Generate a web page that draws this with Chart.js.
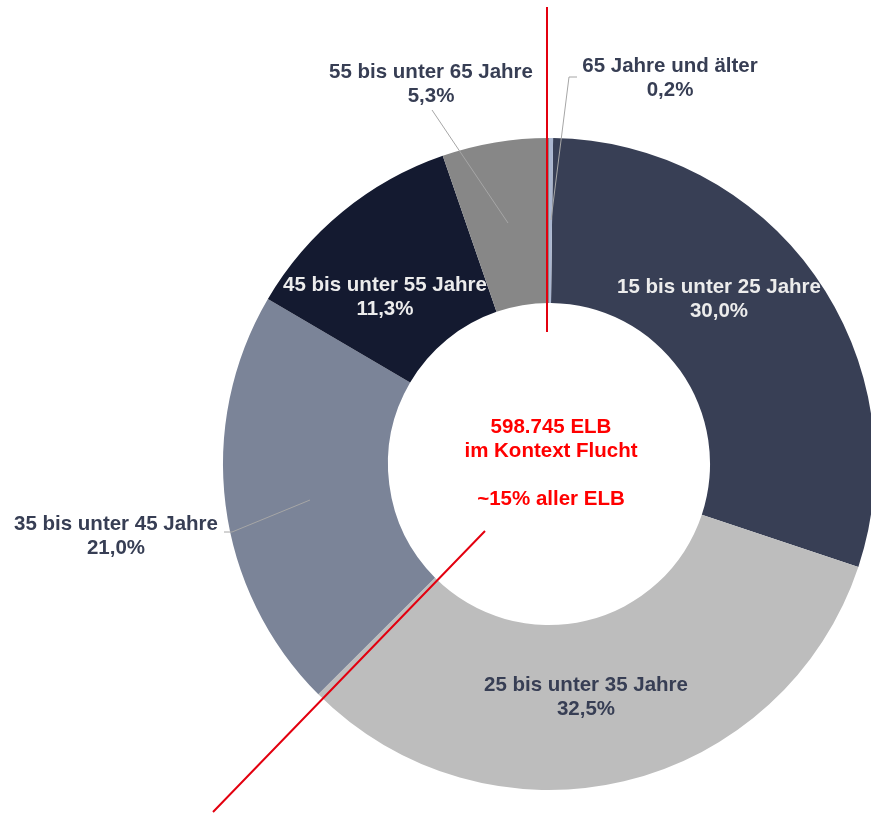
<!DOCTYPE html>
<html>
<head>
<meta charset="utf-8">
<script src="https://cdn.jsdelivr.net/npm/chart.js@4.4.1/dist/chart.umd.min.js"></script>
<style>
  html, body { margin: 0; padding: 0; background: #fff; overflow: hidden; }
  #wrap { position: absolute; left: 0; top: 0; width: 900px; height: 813px; }
</style>
</head>
<body>
<div id="wrap"><canvas id="graph"></canvas></div>
<script>
// Altersgruppen und Anteile (in %)
const labels = ["15 bis unter 25 Jahre", "25 bis unter 35 Jahre", "35 bis unter 45 Jahre",
                "45 bis unter 55 Jahre", "55 bis unter 65 Jahre", "65 Jahre und älter"];
const anteile = [30.0, 32.5, 21.0, 11.3, 5.3, 0.2];
const colors = ['#383f55', '#bdbdbd', '#7b8498', '#141a30', '#878787', '#aab6cf'];
const centerText = ["598.745 ELB", "im Kontext Flucht", "", "~15% aller ELB"];

// Position der Beschriftungen (Mitte x, Grundlinie erste Zeile) relativ zur Kreismitte
const labelPos = [
    { dx: 170, dy: -171, color: '#ececec' },
    { dx: 37, dy: 227, color: '#373e54' },
    { dx: -433, dy: 66, color: '#373e54', leader: [[-325, 68], [-317, 68], [-239, 36]] },
    { dx: -164, dy: -173, color: '#ececec' },
    { dx: -118, dy: -386, color: '#373e54', leader: [[-117, -354], [-41, -241]] },
    { dx: 121, dy: -392, color: '#373e54', leader: [[28, -387], [20, -387], [2, -244]] }
];

function fmt(v) {
    return v.toFixed(1).replace('.', ',') + '%';
}

const labelPlugin = {
    id: 'labelPlugin',
    afterDraw(chart) {
        const arc = chart.getDatasetMeta(0).data[0];
        const cx = arc.x, cy = arc.y;
        const c = chart.ctx;
        c.save();
        c.font = 'bold 20.5px "Liberation Sans", Arial, sans-serif';
        c.textAlign = 'center';
        c.textBaseline = 'alphabetic';

        // Beschriftungen + Führungslinien
        labelPos.forEach((p, i) => {
            if (p.leader) {
                c.strokeStyle = '#a6a6a6';
                c.lineWidth = 1;
                c.beginPath();
                p.leader.forEach((pt, k) => {
                    if (k === 0) c.moveTo(cx + pt[0], cy + pt[1]);
                    else c.lineTo(cx + pt[0], cy + pt[1]);
                });
                c.stroke();
            }
            c.fillStyle = p.color;
            c.fillText(labels[i], cx + p.dx, cy + p.dy);
            c.fillText(fmt(anteile[i]), cx + p.dx, cy + p.dy + 23.5);
        });

        // Text in der Mitte
        c.fillStyle = '#ff0000';
        centerText.forEach((t, i) => {
            if (t) c.fillText(t, cx + 2, cy - 31 + i * 24);
        });

        // rote Linien
        c.strokeStyle = '#e3000f';
        c.lineWidth = 2;
        c.beginPath();
        c.moveTo(cx - 2, 7);
        c.lineTo(cx - 2, cy - 132);
        c.moveTo(cx - 64, cy + 67);
        c.lineTo(cx - 336, cy + 348);
        c.stroke();
        c.restore();
    }
};

const data = {
    labels: labels,
    datasets: [{
        data: anteile,
        backgroundColor: colors,
        borderWidth: 0
    }]
};

const config = {
    type: 'doughnut',
    data: data,
    options: {
        responsive: true,
        maintainAspectRatio: false,
        animation: false,
        cutout: '49.4%',
        rotation: 0.72,
        layout: { padding: { left: 223, right: 25, top: 138, bottom: 23 } },
        plugins: {
            legend: { display: false },
            tooltip: { enabled: false }
        }
    },
    plugins: [labelPlugin]
};

new Chart(document.getElementById('graph'), config);
</script>
</body>
</html>
